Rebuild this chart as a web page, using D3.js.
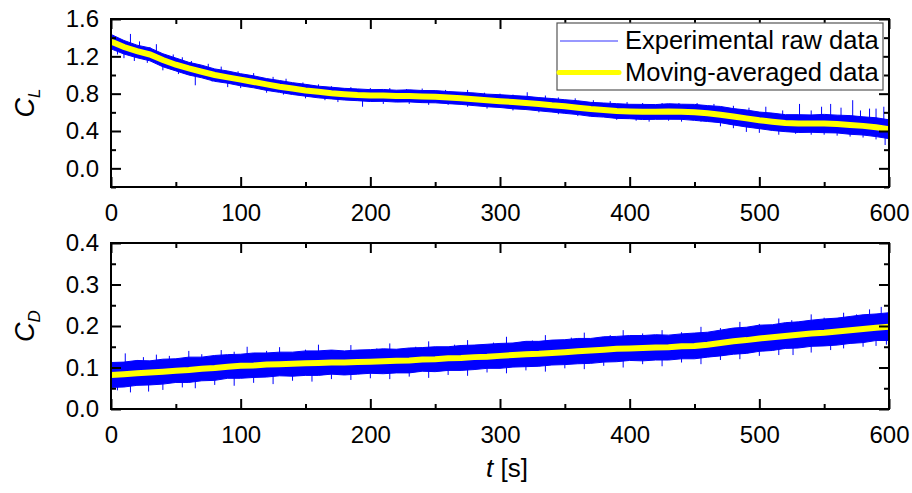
<!DOCTYPE html>
<html>
<head>
<meta charset="utf-8">
<script src="https://cdn.jsdelivr.net/npm/d3@7"></script>
<style>
  body { margin: 0; background: #fff; }
  svg { font-family: "Liberation Sans", Arial, sans-serif; }
</style>
</head>
<body>
<svg id="canvas" width="912" height="493"></svg>
<script>
// time stamps [s]
let timeS = [0,10,20,30,40,50,60,70,80,90,100,110,120,130,140,150,160,170,180,190,200,
  210,220,230,240,250,260,270,280,290,300,310,320,330,340,350,360,370,380,390,400,
  410,420,430,440,450,460,470,480,490,500,510,520,530,540,550,560,570,580,590,600]

// lift coefficient, moving-averaged
let clAvg = [1.36,1.30,1.255,1.22,1.16,1.11,1.07,1.035,1.00,0.975,0.95,0.925,0.90,0.875,0.855,0.835,0.82,0.805,0.795,0.785,0.78,
  0.78,0.775,0.775,0.77,0.766,0.76,0.75,0.74,0.73,0.72,0.71,0.70,0.69,0.675,0.665,0.65,0.635,0.625,0.615,0.61,
  0.605,0.605,0.61,0.607,0.60,0.59,0.575,0.555,0.535,0.515,0.50,0.485,0.48,0.48,0.48,0.475,0.465,0.455,0.44,0.42]
// raw data band above / below the average
let clUp = [0.075,0.07,0.065,0.07,0.068,0.072,0.066,0.07,0.065,0.068,0.064,0.066,0.062,0.066,0.063,0.065,0.06,0.064,0.062,0.066,0.063,
  0.065,0.062,0.066,0.064,0.067,0.063,0.066,0.068,0.065,0.069,0.07,0.072,0.068,0.073,0.07,0.074,0.072,0.075,0.078,0.076,
  0.08,0.078,0.082,0.08,0.085,0.082,0.088,0.085,0.09,0.088,0.092,0.09,0.095,0.092,0.098,0.095,0.1,0.097,0.102,0.1]
let clDown = [0.08,0.075,0.07,0.068,0.072,0.066,0.07,0.065,0.068,0.063,0.066,0.062,0.065,0.061,0.064,0.062,0.065,0.061,0.063,0.06,0.064,
  0.062,0.065,0.063,0.066,0.064,0.067,0.065,0.068,0.07,0.068,0.072,0.07,0.074,0.072,0.076,0.074,0.078,0.076,0.08,0.078,
  0.082,0.08,0.084,0.082,0.086,0.088,0.086,0.09,0.092,0.09,0.094,0.092,0.096,0.094,0.098,0.096,0.1,0.098,0.1,0.102]
let clSpikes = [[15,1.44],[22,1.36],[35,1.33],[48,1.22],[62,1.15],[85,1.09],[110,1.02],[135,0.96],[160,0.90],[185,0.87],
  [215,0.86],[240,0.855],[275,0.84],[300,0.80],[321,0.815],[345,0.76],[372,0.73],[398,0.71],[425,0.70],[452,0.70],
  [480,0.67],[505,0.66],[531,0.69],[548,0.66],[563,0.65],[572,0.73],[585,0.64],[596,0.66],
  [30,1.30],[55,1.19],[75,1.12],[98,1.04],[125,0.98],[148,0.92],[170,0.88],[200,0.86],[228,0.85],[258,0.84],
  [288,0.81],[310,0.79],[335,0.78],[358,0.75],[385,0.72],[410,0.70],[438,0.70],[465,0.69],[492,0.65],[518,0.62],
  [540,0.62],[555,0.69],[578,0.62],[590,0.64],
  [5,1.22],[18,1.15],[40,1.05],[65,0.89],[90,0.87],[120,0.81],[150,0.75],[175,0.71],[194,0.66],[230,0.69],
  [260,0.68],[290,0.64],[330,0.60],[360,0.56],[390,0.52],[415,0.50],[440,0.50],[470,0.45],[490,0.39],[515,0.36],
  [540,0.36],[560,0.35],[580,0.33],[597,0.25],
  [10,1.18],[28,1.13],[52,1.01],[78,0.93],[100,0.86],[133,0.79],[165,0.73],[210,0.69],[245,0.68],[275,0.66],
  [310,0.62],[345,0.58],[375,0.55],[405,0.51],[430,0.51],[455,0.50],[480,0.43],[500,0.38],[528,0.37],[550,0.36],
  [570,0.34],[590,0.31]]

// drag coefficient, moving-averaged
let cdAvg = [0.082,0.084,0.086,0.088,0.090,0.092,0.094,0.097,0.099,0.102,0.104,0.105,0.107,0.108,0.109,0.110,0.111,0.112,0.112,0.113,0.114,
  0.115,0.116,0.117,0.119,0.120,0.122,0.123,0.125,0.126,0.128,0.130,0.132,0.133,0.135,0.137,0.139,0.141,0.143,0.145,0.146,
  0.147,0.148,0.149,0.151,0.152,0.155,0.159,0.163,0.166,0.170,0.173,0.176,0.179,0.182,0.184,0.187,0.190,0.193,0.196,0.198]
let cdUp = [0.03,0.029,0.031,0.028,0.03,0.029,0.031,0.028,0.03,0.029,0.028,0.03,0.028,0.029,0.028,0.03,0.029,0.03,0.028,0.029,0.029,
  0.03,0.028,0.03,0.029,0.03,0.028,0.03,0.029,0.03,0.03,0.029,0.031,0.03,0.031,0.03,0.031,0.029,0.031,0.03,0.031,
  0.03,0.031,0.029,0.03,0.031,0.03,0.031,0.032,0.031,0.032,0.03,0.032,0.031,0.032,0.033,0.032,0.033,0.034,0.033,0.034]
let cdDown = [0.03,0.031,0.029,0.03,0.03,0.028,0.03,0.029,0.03,0.028,0.03,0.029,0.03,0.028,0.03,0.029,0.03,0.028,0.03,0.029,0.028,
  0.03,0.029,0.03,0.028,0.03,0.029,0.03,0.03,0.028,0.03,0.029,0.03,0.03,0.029,0.03,0.03,0.031,0.03,0.031,0.029,
  0.031,0.03,0.031,0.03,0.031,0.03,0.031,0.031,0.032,0.031,0.032,0.03,0.032,0.031,0.032,0.033,0.032,0.033,0.031,0.033]
let cdSpikes = [[11,0.134],[25,0.125],[45,0.128],[70,0.132],[95,0.138],[120,0.14],[150,0.143],[175,0.142],[205,0.146],[235,0.15],
  [265,0.155],[295,0.16],[325,0.165],[355,0.172],[385,0.178],[410,0.182],[440,0.185],[470,0.195],[500,0.205],[525,0.214],
  [550,0.22],[575,0.228],[594,0.246],
  [35,0.131],[60,0.14],[85,0.142],[105,0.15],[130,0.149],[160,0.155],[185,0.154],[215,0.158],[245,0.163],[275,0.166],
  [305,0.174],[335,0.178],[365,0.184],[395,0.19],[425,0.19],[455,0.198],[485,0.21],[515,0.218],[540,0.228],[565,0.232],
  [585,0.24],
  [5,0.045],[29,0.042],[55,0.052],[80,0.058],[110,0.063],[140,0.068],[170,0.072],[200,0.074],[230,0.078],[260,0.082],
  [290,0.088],[320,0.093],[350,0.098],[380,0.104],[410,0.108],[440,0.112],[470,0.118],[500,0.128],[526,0.13],[555,0.142],
  [580,0.15],[598,0.155],
  [15,0.04],[40,0.046],[65,0.05],[95,0.056],[125,0.06],[155,0.066],[185,0.07],[215,0.072],[245,0.075],[275,0.08],
  [305,0.086],[335,0.09],[365,0.096],[395,0.1],[425,0.103],[455,0.108],[485,0.12],[515,0.13],[540,0.136],[565,0.146],
  [590,0.152]]

let xTicks = [0,100,200,300,400,500,600]
let xMinor = [50,150,250,350,450,550]
let clTicks = [0.0,0.4,0.8,1.2,1.6]
let clMinor = [-0.2,0.2,0.6,1.0,1.4]
let cdTicks = [0.0,0.1,0.2,0.3,0.4]
let cdMinor = [0.05,0.15,0.25,0.35]
let legendNames = ['Experimental raw data', 'Moving-averaged data']

let canvas = d3.select('#canvas')
let left = 111, right = 889
let xScale = d3.scaleLinear().domain([0, 600]).range([left, right])

let drawPanel = (top, bottom, yDomain, avg, up, down, spikes, yTicks, yMinor, showLegend, label, sub) => {
    let yScale = d3.scaleLinear().domain(yDomain).range([bottom, top])
    let g = canvas.append('g')

    // raw data band
    let band = d3.area()
        .x((d, i) => xScale(timeS[i]))
        .y0((d, i) => yScale(avg[i] - down[i]))
        .y1((d, i) => yScale(avg[i] + up[i]))
    g.append('path')
        .datum(avg)
        .attr('d', band)
        .attr('fill', '#0000ff')
        .attr('stroke', '#0000ff')
        .attr('stroke-width', 1)

    g.selectAll('.spike')
        .data(spikes)
        .enter()
        .append('line')
        .attr('x1', (s) => xScale(s[0]))
        .attr('x2', (s) => xScale(s[0]))
        .attr('y1', (s) => yScale(avg[Math.round(s[0] / 10)]))
        .attr('y2', (s) => yScale(s[1]))
        .attr('stroke', '#0000ff')
        .attr('stroke-width', 1)

    // moving average
    let line = d3.line()
        .x((d, i) => xScale(timeS[i]))
        .y((d) => yScale(d))
    g.append('path')
        .datum(avg)
        .attr('d', line)
        .attr('fill', 'none')
        .attr('stroke', '#ffff00')
        .attr('stroke-width', 6)

    // axes, ticks pointing inward
    let addAxis = (axis, tx, ty) => {
        let a = g.append('g')
            .attr('transform', 'translate(' + tx + ',' + ty + ')')
            .call(axis)
        a.select('.domain').remove()
        a.selectAll('line').attr('stroke', '#000').attr('stroke-width', 2)
        a.selectAll('text').attr('font-size', 24).attr('fill', '#000')
            .attr('font-family', '"Liberation Sans", Arial, sans-serif')
        return a
    }
    addAxis(d3.axisBottom(xScale).tickValues(xTicks).tickSize(-10).tickPadding(17).tickFormat(d3.format('d')), 0, bottom)
    addAxis(d3.axisBottom(xScale).tickValues(xMinor).tickSize(-5).tickFormat(''), 0, bottom)
    addAxis(d3.axisTop(xScale).tickValues(xTicks).tickSize(-10).tickFormat(''), 0, top)
    addAxis(d3.axisTop(xScale).tickValues(xMinor).tickSize(-5).tickFormat(''), 0, top)
    addAxis(d3.axisLeft(yScale).tickValues(yTicks).tickSize(-10).tickPadding(12).tickFormat(d3.format('.1f')), left, 0)
    addAxis(d3.axisLeft(yScale).tickValues(yMinor).tickSize(-5).tickFormat(''), left, 0)
    addAxis(d3.axisRight(yScale).tickValues(yTicks).tickSize(-10).tickFormat(''), right, 0)
    addAxis(d3.axisRight(yScale).tickValues(yMinor).tickSize(-5).tickFormat(''), right, 0)

    g.append('rect')
        .attr('x', left).attr('y', top)
        .attr('width', right - left).attr('height', bottom - top)
        .attr('fill', 'none').attr('stroke', '#000').attr('stroke-width', 2)

    // y label
    let yl = g.append('text')
        .attr('transform', 'translate(34,' + ((top + bottom) / 2) + ') rotate(-90)')
        .attr('text-anchor', 'middle')
        .attr('font-size', 27)
        .attr('font-style', 'italic')
    yl.append('tspan').text(label)
    yl.append('tspan').text(sub).attr('font-size', 17).attr('dy', 6)

    if (showLegend) {
        let lg = g.append('g')
        lg.append('rect')
            .attr('x', 557).attr('y', 23).attr('width', 326).attr('height', 67)
            .attr('fill', '#fff').attr('stroke', '#555').attr('stroke-width', 1.2)
        lg.append('line')
            .attr('x1', 560).attr('x2', 618).attr('y1', 41).attr('y2', 41)
            .attr('stroke', '#3333ff').attr('stroke-width', 1.2)
        lg.append('line')
            .attr('x1', 559).attr('x2', 619).attr('y1', 72.5).attr('y2', 72.5)
            .attr('stroke', '#ffff00').attr('stroke-width', 5)
            .attr('stroke-linecap', 'round')
        lg.selectAll('.lt')
            .data(legendNames)
            .enter()
            .append('text')
            .attr('x', 625)
            .attr('y', (d, i) => 49 + i * 31.5)
            .attr('font-size', 25.5)
            .attr('fill', '#000')
            .text((d) => d)
    }
}

drawPanel(19, 187, [-0.2, 1.6], clAvg, clUp, clDown, clSpikes, clTicks, clMinor, true, 'C', 'L')
drawPanel(243, 409, [0, 0.4], cdAvg, cdUp, cdDown, cdSpikes, cdTicks, cdMinor, false, 'C', 'D')

// x label
let xl = canvas.append('text')
    .attr('x', 507)
    .attr('y', 477)
    .attr('text-anchor', 'middle')
    .attr('font-size', 26)
xl.append('tspan').text('t').attr('font-style', 'italic')
xl.append('tspan').text(' [s]')
</script>
</body>
</html>
